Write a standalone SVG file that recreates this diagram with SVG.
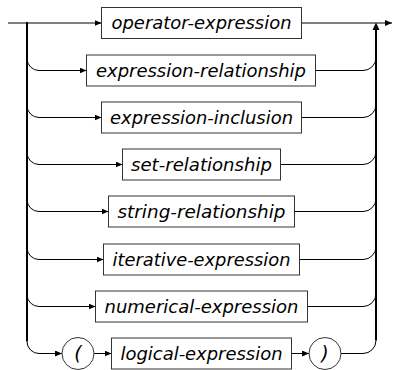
<svg xmlns="http://www.w3.org/2000/svg" width="393" height="370" viewBox="0 0 393 370">
<style>
.box{fill:#fff;stroke:#333;stroke-width:1}
.t{font-family:"DejaVu Sans",sans-serif;font-style:italic;font-size:17.5px;fill:#000;text-anchor:middle}
.p{font-size:19px}
.ln{fill:none;stroke:#000;stroke-width:1}
.vt{fill:none;stroke:#000;stroke-width:2}
</style>
<defs>
<marker id="ah" markerUnits="userSpaceOnUse" markerWidth="8" markerHeight="6" refX="7" refY="3" orient="auto">
<path d="M0,0 L7,3 L0,6 z" fill="#000"/>
</marker>
</defs>
<g id="connectors">
<path class="ln" d="M8,23 L101.5,23" marker-end="url(#ah)"/>
<path class="ln" d="M301.5,23 L392,23" marker-end="url(#ah)"/>
<path class="vt" d="M27,22 L27,341.5"/>
<path class="vt" d="M376,340.5 L376,28"/>
<path d="M372.5,30 L376,22.5 L379.5,30 z" fill="#000"/>
<path class="ln" d="M27,58.5 A12,12 0 0 0 39,70.5 L86.5,70.5" marker-end="url(#ah)"/>
<path class="ln" d="M315.5,70.5 L363,70.5 A13,13 0 0 0 376,57.5"/>
<path class="ln" d="M27,105.5 A12,12 0 0 0 39,117.5 L101.5,117.5" marker-end="url(#ah)"/>
<path class="ln" d="M301.5,117.5 L363,117.5 A13,13 0 0 0 376,104.5"/>
<path class="ln" d="M27,152.5 A12,12 0 0 0 39,164.5 L122.5,164.5" marker-end="url(#ah)"/>
<path class="ln" d="M280.5,164.5 L363,164.5 A13,13 0 0 0 376,151.5"/>
<path class="ln" d="M27,199.5 A12,12 0 0 0 39,211.5 L108.5,211.5" marker-end="url(#ah)"/>
<path class="ln" d="M294.5,211.5 L363,211.5 A13,13 0 0 0 376,198.5"/>
<path class="ln" d="M27,247.5 A12,12 0 0 0 39,259.5 L103.5,259.5" marker-end="url(#ah)"/>
<path class="ln" d="M299.5,259.5 L363,259.5 A13,13 0 0 0 376,246.5"/>
<path class="ln" d="M27,294.5 A12,12 0 0 0 39,306.5 L95.5,306.5" marker-end="url(#ah)"/>
<path class="ln" d="M307.5,306.5 L363,306.5 A13,13 0 0 0 376,293.5"/>
<path class="ln" d="M27,341.5 A12,12 0 0 0 39,353.5 L62,353.5" marker-end="url(#ah)"/>
<path class="ln" d="M94,353.5 L111.5,353.5" marker-end="url(#ah)"/>
<path class="ln" d="M291.5,353.5 L309,353.5" marker-end="url(#ah)"/>
<path class="ln" d="M341,353.5 L363,353.5 A13,13 0 0 0 376,340.5"/>
</g>
<g id="operator-expression"><rect class="box" x="101.5" y="7.5" width="200" height="31"/><text class="t" x="201.5" y="29" textLength="180" lengthAdjust="spacingAndGlyphs">operator-expression</text></g>
<g id="expression-relationship"><rect class="box" x="86.5" y="55" width="229" height="31"/><text class="t" x="201" y="76.5" textLength="210" lengthAdjust="spacingAndGlyphs">expression-relationship</text></g>
<g id="expression-inclusion"><rect class="box" x="101.5" y="102" width="200" height="31"/><text class="t" x="201.5" y="123.5" textLength="183" lengthAdjust="spacingAndGlyphs">expression-inclusion</text></g>
<g id="set-relationship"><rect class="box" x="122.5" y="149" width="158" height="31"/><text class="t" x="201.5" y="170.5" textLength="141" lengthAdjust="spacingAndGlyphs">set-relationship</text></g>
<g id="string-relationship"><rect class="box" x="108.5" y="196" width="186" height="31"/><text class="t" x="201.5" y="217.5" textLength="168" lengthAdjust="spacingAndGlyphs">string-relationship</text></g>
<g id="iterative-expression"><rect class="box" x="103.5" y="244" width="196" height="31"/><text class="t" x="201.5" y="265.5" textLength="178" lengthAdjust="spacingAndGlyphs">iterative-expression</text></g>
<g id="numerical-expression"><rect class="box" x="95.5" y="291" width="212" height="31"/><text class="t" x="201.5" y="312.5" textLength="194" lengthAdjust="spacingAndGlyphs">numerical-expression</text></g>
<g id="open-paren"><circle class="box" cx="78" cy="353.5" r="16"/><text class="t p" x="78" y="360">(</text></g>
<g id="logical-expression"><rect class="box" x="111.5" y="338" width="180" height="31"/><text class="t" x="201.5" y="359.5" textLength="162" lengthAdjust="spacingAndGlyphs">logical-expression</text></g>
<g id="close-paren"><circle class="box" cx="325" cy="353.5" r="16"/><text class="t p" x="325" y="360">)</text></g>
</svg>
